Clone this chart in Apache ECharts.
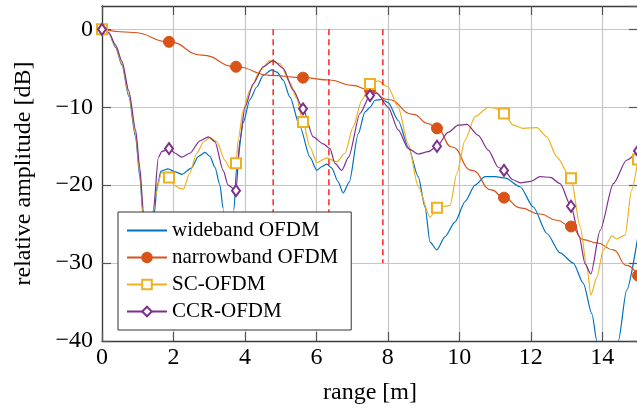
<!DOCTYPE html>
<html>
<head>
<meta charset="utf-8">
<script src="https://cdn.jsdelivr.net/npm/echarts@6/dist/echarts.min.js"></script>
<style>html,body{margin:0;padding:0;background:#fff}#c{width:637px;height:410px}</style>
</head>
<body>
<div id="c"></div>
<script>
// ---- data ----
const markerX = [0, 1.875, 3.75, 5.625, 7.5, 9.375, 11.25, 13.125, 15];

const wideX = [0, 0.19, 0.38, 0.56, 0.75, 0.94, 1.06, 1.15, 1.3, 1.45, 1.55, 1.65, 1.85, 2.05, 2.24, 2.5, 2.7, 2.88, 3.02, 3.16, 3.3, 3.39, 3.55, 3.69, 3.77, 3.95, 4.14, 4.33, 4.51, 4.75, 4.9, 5.07, 5.26, 5.54, 5.82, 6.01, 6.16, 6.29, 6.43, 6.6, 6.75, 6.92, 7.17, 7.36, 7.5, 7.64, 7.83, 8.01, 8.29, 8.57, 8.85, 9.04, 9.18, 9.37, 9.6, 9.88, 10.16, 10.44, 10.72, 11.0, 11.29, 11.7, 12.07, 12.45, 12.82, 13.19, 13.47, 13.71, 13.85, 14.0, 14.2, 14.45, 14.68, 15];
const wideY = [0, -0.5, -2.3, -4.6, -8.6, -13.8, -19, -24, -38, -24, -20, -18.2, -17.9, -18.3, -18.6, -17.8, -16.3, -15.8, -16.3, -17.7, -20, -23, -38, -23.2, -17.6, -12, -9, -7.4, -5.9, -5.2, -5.5, -6.5, -8.7, -12.5, -16.4, -18.1, -17.6, -17.3, -17.8, -19.5, -21, -19.6, -13.4, -10.6, -10, -9.1, -9.0, -9.4, -11.7, -15.1, -18.9, -22.8, -27.3, -28.3, -26.6, -24.7, -22.1, -20, -18.9, -18.9, -19.1, -20.2, -22.8, -26.2, -28.7, -30, -32.6, -36.5, -40, -46, -48, -40, -33.5, -26.5];

const narrowX = [0, 0.88, 1.875, 2.79, 3.75, 4.7, 5.625, 6.38, 7.0, 7.5, 8.0, 8.71, 9.13, 9.375, 9.79, 10.35, 10.9, 11.25, 11.7, 12.26, 12.73, 13.125, 13.47, 13.85, 14.31, 14.68, 15];
const narrowY = [0, -0.4, -1.6, -3.3, -4.8, -5.9, -6.2, -6.5, -7.2, -7.8, -9.0, -10.9, -12.1, -12.7, -15.1, -18.1, -20.6, -21.6, -22.9, -23.7, -24.5, -25.3, -27.0, -27.4, -28.3, -30.3, -31.6];

const scX = [0, 0.19, 0.38, 0.56, 0.75, 0.94, 1.06, 1.15, 1.3, 1.48, 1.67, 1.875, 2.05, 2.18, 2.28, 2.45, 2.65, 2.85, 3.02, 3.21, 3.44, 3.58, 3.75, 3.81, 3.95, 4.14, 4.42, 4.7, 4.98, 5.26, 5.45, 5.625, 5.82, 6.01, 6.29, 6.57, 6.8, 7.03, 7.27, 7.5, 7.73, 8.01, 8.29, 8.57, 8.85, 9.18, 9.375, 9.6, 9.74, 9.93, 10.16, 10.44, 10.81, 11.0, 11.25, 11.51, 11.79, 12.17, 12.45, 12.73, 13.125, 13.38, 13.57, 13.68, 13.85, 14.03, 14.27, 14.4, 14.64, 14.82, 15];
const scY = [0, -0.5, -2.2, -4.4, -8.3, -13.4, -18.5, -23.5, -36, -21.5, -18.4, -19, -20.1, -20.4, -20.5, -18.5, -15.9, -14.4, -13.9, -14.4, -16.8, -17.8, -17.2, -14.2, -10.4, -7.8, -5.3, -4.0, -4.4, -6.8, -8.9, -11.9, -15.1, -17.1, -16.5, -17.0, -15.9, -12.5, -9.1, -7.0, -6.6, -7.4, -10, -14.7, -20.2, -24.1, -22.9, -22.7, -22.6, -18.5, -14.2, -11.2, -10.0, -10.1, -10.8, -12.3, -12.7, -12.6, -13.8, -16.4, -19.1, -25.3, -30.5, -34.1, -31.8, -28.3, -26.5, -26.9, -26.4, -20.6, -16.7];

const ccrX = [0, 0.19, 0.38, 0.56, 0.75, 0.94, 1.06, 1.15, 1.3, 1.44, 1.58, 1.67, 1.875, 2.05, 2.23, 2.46, 2.74, 2.98, 3.16, 3.39, 3.53, 3.75, 3.86, 4.0, 4.23, 4.51, 4.79, 5.07, 5.35, 5.625, 5.91, 6.19, 6.38, 6.52, 6.71, 6.9, 7.22, 7.5, 7.69, 8.01, 8.29, 8.57, 8.85, 9.13, 9.375, 9.69, 9.97, 10.21, 10.53, 10.81, 11.09, 11.25, 11.5, 11.7, 12.0, 12.26, 12.55, 12.82, 13.125, 13.35, 13.52, 13.68, 13.94, 14.31, 14.68, 15];
const ccrY = [0, -0.4, -2.0, -4.1, -7.9, -12.9, -17.8, -23, -35, -23, -16.4, -15.7, -15.3, -15.9, -16.4, -15.9, -14.3, -13.8, -14.4, -18.1, -20, -20.7, -14.2, -10, -7.0, -4.8, -4.0, -5.0, -7.8, -10.2, -13.8, -14.7, -15.3, -17.2, -18.1, -16.4, -10.8, -8.5, -8.2, -10, -12.9, -15.3, -16, -15.7, -15.0, -13.2, -12.3, -12.2, -13.6, -15.5, -17.7, -18.1, -19.3, -19.7, -19.5, -18.9, -19.0, -19.8, -22.7, -26.5, -30.1, -31.4, -25.8, -19.8, -16.8, -15.6];

const cutX = [4.79, 6.35, 7.86];
const cutRange = [0, -30];

const xTicks = [0, 2, 4, 6, 8, 10, 12, 14];
const yTicks = [-40, -30, -20, -10, 0];
const names = ['wideband OFDM', 'narrowband OFDM', 'SC-OFDM', 'CCR-OFDM'];

// ---- build ----
function build(xs, ys, marked) {
  return xs.map((x, i) => {
    const isMark = marked && markerX.some(m => Math.abs(m - x) < 1e-9);
    return isMark ? { value: [x, ys[i]] } : { value: [x, ys[i]], symbol: 'none' };
  });
}
const FONT = 'Liberation Serif';
const AX = '#3a3a3a';
const GRID = '#c6c6c6';

const chart = echarts.init(document.getElementById('c'), null, { renderer: 'canvas' });

function curve(name, color, xs, ys, marked, symbol, size, smooth) {
  return {
    name, type: 'line', data: build(xs, ys, marked),
    symbol: symbol, symbolSize: size, showSymbol: true, showAllSymbol: true,
    smooth: smooth, smoothMonotone: 'x', clip: true,
    color: color,
    lineStyle: { color: color, width: 1.2 },
    itemStyle: { color: color, borderColor: color, borderWidth: 1 },
    emphasis: { disabled: true }, z: 2
  };
}

const series = [
  curve(names[0], '#0072BD', wideX, wideY, false, 'none', 0, 0.25),
  curve(names[1], '#D95319', narrowX, narrowY, true, 'circle', 11, 0.5),
  curve(names[2], '#EDB120', scX, scY, true, 'emptyRect', 10, 0.25),
  curve(names[3], '#7E2F8E', ccrX, ccrY, true, 'emptyDiamond', [8, 11], 0.25)
];
cutX.forEach(x => series.push({
  type: 'line', data: [[x, cutRange[0]], [x, cutRange[1]]], symbol: 'none', silent: true,
  lineStyle: { color: '#ff0000', width: 1.3, type: [6, 4] }, z: 3, emphasis: { disabled: true }
}));

const minusFmt = v => (v < 0 ? '\u2212' + Math.abs(v) : String(v));

chart.setOption({
  animation: false,
  backgroundColor: '#fff',
  grid: { left: 102, right: -1, top: 6, bottom: 69, containLabel: false, outerBoundsMode: 'none' },
  legend: {
    data: [
      { name: names[0], itemStyle: { opacity: 0 } },
      { name: names[1] }, { name: names[2] }, { name: names[3] }
    ],
    orient: 'vertical', left: 118, top: 212,
    itemWidth: 40, itemHeight: 12, itemGap: 6,
    padding: [8, 13, 8, 8],
    backgroundColor: '#fff', borderColor: '#333', borderWidth: 1,
    textStyle: { fontFamily: FONT, fontSize: 21, color: '#000' },
    selectedMode: false, z: 5
  },
  xAxis: [{
    type: 'value', min: 0, max: 15, interval: 2,
    name: 'range [m]', nameLocation: 'middle', nameGap: 40,
    nameTextStyle: { fontFamily: FONT, fontSize: 24, color: '#000' },
    axisLine: { show: true, onZero: false, lineStyle: { color: AX, width: 1.3 } },
    axisTick: { show: true, inside: true, length: 9, lineStyle: { color: '#555', width: 1.2 } },
    axisLabel: { fontFamily: FONT, fontSize: 24, color: '#000', margin: 5, showMaxLabel: false,
      formatter: v => (xTicks.includes(v) ? minusFmt(v) : '') },
    splitLine: { show: true, lineStyle: { color: GRID, width: 1.2 } }
  }, {
    type: 'value', min: 0, max: 15, interval: 2, position: 'top',
    axisLine: { show: true, onZero: false, lineStyle: { color: AX, width: 1.3 } },
    axisTick: { show: true, inside: true, length: 9, lineStyle: { color: '#555', width: 1.2 } },
    axisLabel: { show: false }, splitLine: { show: false }
  }],
  yAxis: [{
    type: 'value', min: -40, max: 3, interval: 10,
    name: 'relative amplitude [dB]', nameLocation: 'middle', nameGap: 66,
    nameTextStyle: { fontFamily: FONT, fontSize: 24, color: '#000' },
    axisLine: { show: true, onZero: false, lineStyle: { color: AX, width: 1.3 } },
    axisTick: { show: true, inside: true, length: 9, lineStyle: { color: '#555', width: 1.2 } },
    axisLabel: { fontFamily: FONT, fontSize: 24, color: '#000', margin: 9, showMaxLabel: false,
      formatter: v => (yTicks.includes(v) ? minusFmt(v) : '') },
    splitLine: { show: true, lineStyle: { color: GRID, width: 1.2 } }
  }, {
    type: 'value', min: -40, max: 3, interval: 10, position: 'right',
    axisLine: { show: true, onZero: false, lineStyle: { color: AX, width: 1.3 } },
    axisTick: { show: true, inside: true, length: 9, lineStyle: { color: '#555', width: 1.2 } },
    axisLabel: { show: false }, splitLine: { show: false }
  }],
  series
});
</script>
</body>
</html>
